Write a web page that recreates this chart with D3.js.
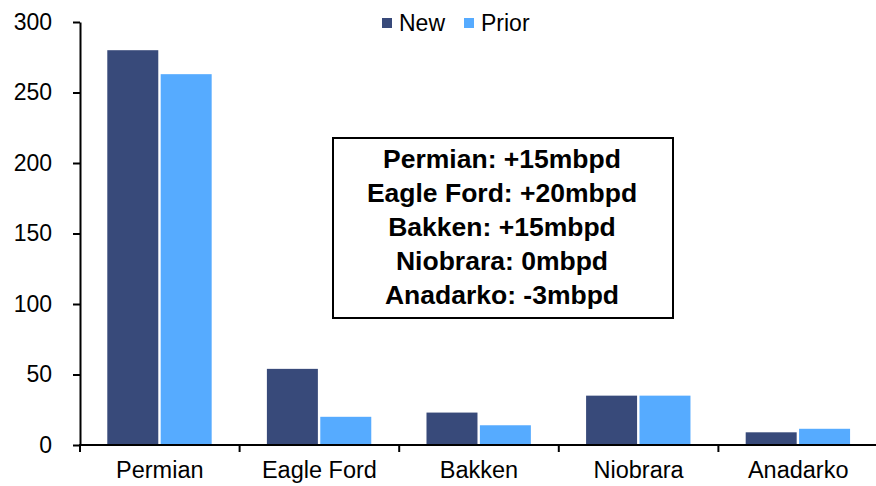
<!DOCTYPE html>
<html>
<head>
<meta charset="utf-8">
<script src="https://cdn.jsdelivr.net/npm/d3@7"></script>
<style>
  html, body { margin: 0; padding: 0; background: #fff; }
  svg text { font-family: "Liberation Sans", Arial, sans-serif; fill: #000; }
</style>
</head>
<body>
<svg id="chart" width="876" height="486"></svg>
<script>
// Basin production, new vs prior estimate
const categories = ["Permian", "Eagle Ford", "Bakken", "Niobrara", "Anadarko"];
const seriesNames = ["New", "Prior"];
const newValues = [280, 54, 23, 35, 9];
const priorValues = [263, 20, 14, 35, 11.5];
const yTicks = [0, 50, 100, 150, 200, 250, 300];
const noteLines = [
  "Permian: +15mbpd",
  "Eagle Ford: +20mbpd",
  "Bakken: +15mbpd",
  "Niobrara: 0mbpd",
  "Anadarko: -3mbpd"
];
const colors = { New: "#384a7a", Prior: "#56abff" };

const svg = d3.select("#chart");
const plotLeft = 80, plotRight = 878, plotTop = 22, plotBottom = 445;

const x = d3.scaleBand().domain(categories).range([plotLeft, plotRight]).paddingInner(0).paddingOuter(0);
const bw = x.bandwidth();
const xs = d3.scaleBand().domain(seriesNames).range([bw * 0.171, bw * 0.825]).paddingInner(0.045);
const y = d3.scaleLinear().domain([0, 300]).range([plotBottom, plotTop]);

const rows = categories.map((c, i) => ({ cat: c, New: newValues[i], Prior: priorValues[i] }));

// Bars
const groups = svg.append("g").selectAll("g").data(rows).join("g")
  .attr("transform", d => `translate(${x(d.cat)},0)`);
groups.selectAll("rect")
  .data(d => seriesNames.map(s => ({ s, v: d[s] })))
  .join("rect")
  .attr("x", d => xs(d.s))
  .attr("width", xs.bandwidth())
  .attr("y", d => y(d.v))
  .attr("height", d => y(0) - y(d.v))
  .attr("fill", d => colors[d.s]);

// Y axis
const yAxis = svg.append("g").attr("transform", `translate(${plotLeft},0)`)
  .call(d3.axisLeft(y).tickValues(yTicks).tickSize(7).tickPadding(21).tickSizeOuter(0));
yAxis.select(".domain").attr("stroke", "#000").attr("stroke-width", 2);
yAxis.selectAll(".tick line").attr("stroke", "#000").attr("stroke-width", 2);
yAxis.selectAll(".tick text").attr("font-size", 23).style("font-family", "Liberation Sans, Arial, sans-serif");

// X axis: baseline with tick marks between categories
const xAxisG = svg.append("g");
xAxisG.append("line")
  .attr("x1", plotLeft - 1).attr("x2", 876)
  .attr("y1", y(0)).attr("y2", y(0))
  .attr("stroke", "#000").attr("stroke-width", 2);
const boundaries = categories.map(c => x(c)).concat([x(categories[categories.length - 1]) + bw]);
xAxisG.selectAll("line.tk").data(boundaries).join("line")
  .attr("class", "tk")
  .attr("x1", d => d).attr("x2", d => d)
  .attr("y1", y(0)).attr("y2", y(0) + 7)
  .attr("stroke", "#000").attr("stroke-width", 2);
xAxisG.selectAll("text").data(categories).join("text")
  .attr("x", d => x(d) + bw / 2)
  .attr("y", 478)
  .attr("text-anchor", "middle")
  .attr("font-size", 23.5)
  .text(d => d);

// Legend
const legend = svg.append("g");
const legendX = [382, 464];
seriesNames.forEach((s, i) => {
  legend.append("rect").attr("x", legendX[i]).attr("y", 18).attr("width", 10).attr("height", 10).attr("fill", colors[s]);
  legend.append("text").attr("x", legendX[i] + 17).attr("y", 31).attr("font-size", 23).text(s);
});

// Annotation box
const note = svg.append("g");
note.append("rect")
  .attr("x", 333).attr("y", 138).attr("width", 340).attr("height", 180)
  .attr("fill", "#fff").attr("stroke", "#000").attr("stroke-width", 2);
note.selectAll("text").data(noteLines).join("text")
  .attr("x", 502)
  .attr("y", (d, i) => 168 + i * 34)
  .attr("text-anchor", "middle")
  .attr("font-size", 26.5)
  .attr("font-weight", "bold")
  .text(d => d);
</script>
</body>
</html>
